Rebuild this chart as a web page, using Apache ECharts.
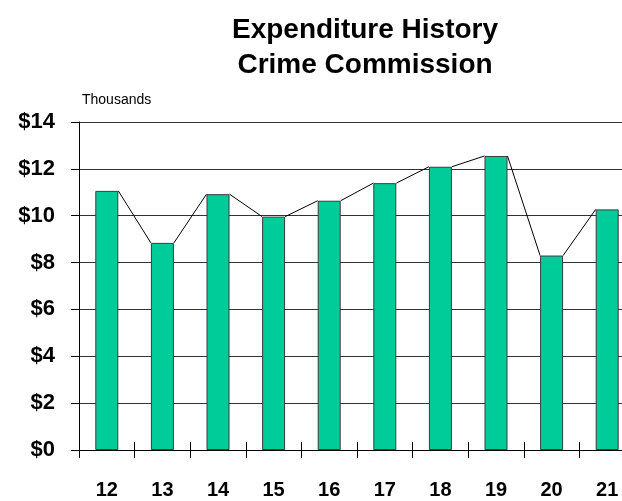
<!DOCTYPE html>
<html>
<head>
<meta charset="utf-8">
<script src="https://cdn.jsdelivr.net/npm/echarts@6/dist/echarts.min.js"></script>
<style>
  html, body { margin: 0; padding: 0; background: #fff; overflow: hidden; }
  /* the plot runs a little past the right edge of the page */
  #chart { width: 635px; height: 501px; }
</style>
</head>
<body>
<div id="chart"></div>
<script>
// Fiscal years and spending, in thousands of dollars
const years = ['12', '13', '14', '15', '16', '17', '18', '19', '20', '21'];
const spending = [11.06, 8.84, 10.92, 9.96, 10.64, 11.39, 12.09, 12.55, 8.30, 10.27];
const yTicks = [0, 2, 4, 6, 8, 10, 12, 14];

const FONT = '"Liberation Sans", Arial, sans-serif';
const BAR_W = 23;

// Connector segments from the top-right corner of one bar to the top-left of the next
const links = [];
for (let i = 0; i < spending.length - 1; i++) {
  links.push([i, spending[i], spending[i + 1]]);
}

const chart = echarts.init(document.getElementById('chart'), null, { renderer: 'canvas' });

chart.setOption({
  animation: false,
  backgroundColor: '#fff',
  graphic: [
    {
      type: 'text', x: 365, y: 13,
      style: {
        text: 'Expenditure History\nCrime Commission',
        font: 'bold 28px ' + FONT, fill: '#000',
        textAlign: 'center', lineHeight: 35
      }
    },
    {
      type: 'text', x: 82, y: 93,
      style: { text: 'Thousands', font: '14px ' + FONT, fill: '#000' }
    }
  ],
  grid: { left: 79, right: 0, top: 122, bottom: 51, containLabel: false },
  xAxis: [
    {
      type: 'category', data: years,
      axisLine: { lineStyle: { color: '#000', width: 1 } },
      axisTick: { show: true, alignWithLabel: false, length: 8, lineStyle: { color: '#000' } },
      axisLabel: { color: '#000', fontFamily: FONT, fontWeight: 'bold', fontSize: 20, margin: 30 }
    },
    {
      // upper half of the boundary ticks that cross the baseline
      type: 'category', data: years, position: 'bottom', offset: -8,
      axisLine: { show: false },
      axisTick: { show: true, length: 8, lineStyle: { color: '#000' } },
      axisLabel: { show: false }
    }
  ],
  yAxis: {
    type: 'value', min: yTicks[0], max: yTicks[yTicks.length - 1], interval: 2,
    axisLine: { show: true, lineStyle: { color: '#000', width: 1 } },
    axisTick: { show: true, length: 8, lineStyle: { color: '#000' } },
    axisLabel: {
      color: '#000', fontFamily: FONT, fontWeight: 'bold', fontSize: 22, margin: 24,
      formatter: v => '$' + v
    },
    splitLine: { show: true, lineStyle: { color: '#333', width: 1 } }
  },
  series: [
    {
      type: 'bar', data: spending, barWidth: BAR_W,
      itemStyle: { color: '#00CC99', borderColor: '#3a3a3a', borderWidth: 1 },
      z: 2
    },
    {
      type: 'custom', data: links, z: 3,
      renderItem: function (params, api) {
        const a = api.coord([api.value(0), api.value(1)]);
        const b = api.coord([api.value(0) + 1, api.value(2)]);
        return {
          type: 'line',
          shape: { x1: a[0] + BAR_W / 2, y1: a[1], x2: b[0] - BAR_W / 2, y2: b[1] },
          style: { stroke: '#000', lineWidth: 1 }
        };
      }
    }
  ]
});
</script>
</body>
</html>
